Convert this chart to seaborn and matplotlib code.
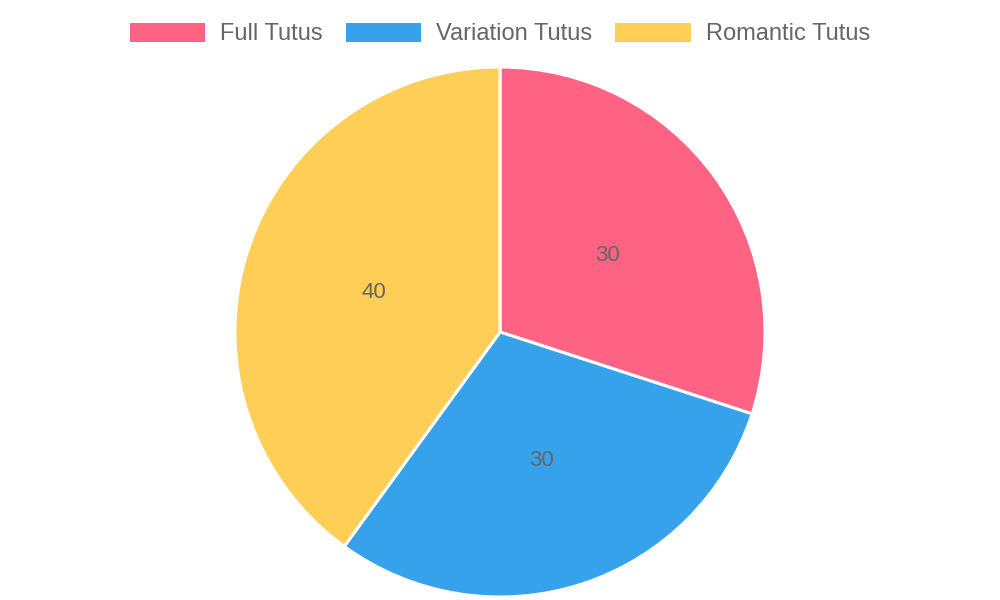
import matplotlib
matplotlib.use("Agg")
import matplotlib.pyplot as plt
import matplotlib.patches as mpatches
import numpy as np
import seaborn as sns

categories = ["Full Tutus", "Variation Tutus", "Romantic Tutus"]
values = [30, 30, 40]
colors = ["#FF6384", "#36A2EB", "#FFCE56"]

sns.set_theme(style="white")
plt.rcParams["font.family"] = ["Liberation Sans", "DejaVu Sans"]

fig = plt.figure(figsize=(10, 6), dpi=100)
ax = fig.add_axes([0, 0, 1, 1])

wedges, texts = ax.pie(values, colors=colors, startangle=90, counterclock=False,
                       radius=265, center=(500, 268),
                       wedgeprops=dict(edgecolor="white", linewidth=2.2))
total = sum(values)
ang = 90.0
for v in values:
    mid = ang - 360.0 * v / total / 2
    ang -= 360.0 * v / total
    x = 500 + 133 * np.cos(np.radians(mid))
    y = 266 + 133 * np.sin(np.radians(mid))
    ax.text(x, y, str(v), ha="center", va="center", fontsize=16, color="#666666")

ax.set_xlim(0, 1000)
ax.set_ylim(0, 600)
ax.set_aspect("equal")
ax.axis("off")

handles = [mpatches.Patch(facecolor=c, edgecolor="none", label=l) for c, l in zip(colors, categories)]
leg = fig.legend(handles=handles, loc="center", bbox_to_anchor=(0.5, 1 - 34 / 600), ncol=3,
                 frameon=False, fontsize=17, handlelength=3.2, handleheight=0.85,
                 handletextpad=0.64, columnspacing=0.97, labelcolor="#666666")

fig.savefig("out.png", dpi=100)
